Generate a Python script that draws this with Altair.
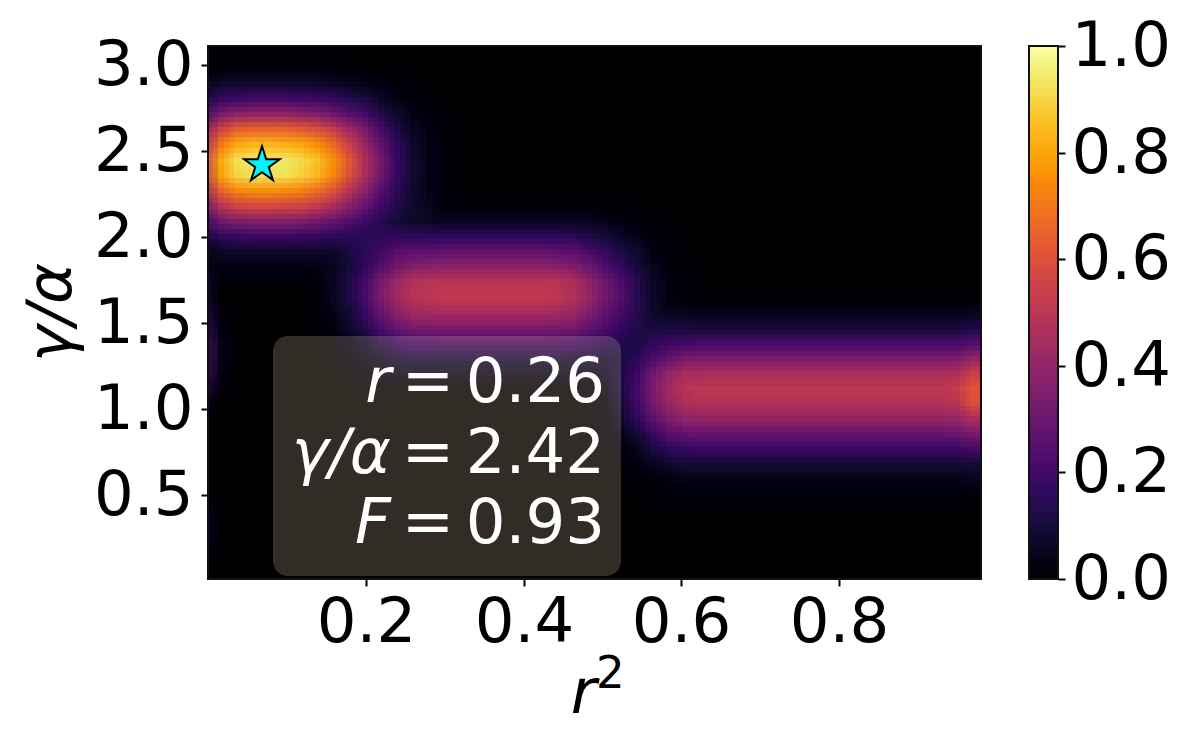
import altair as alt
import numpy as np
import pandas as pd

FONT = "DejaVu Sans"
FS = 62.5
N_COLS = 49

# Heatmap intensity, in hundredths (rows run top to bottom).
row_00 = []
row_01 = [0,1,1,1,1,1,1,1,1,1]
row_02 = [5,8,9,9,9,9,9,8,7,6,4,3,1,1]
row_03 = [11,18,20,21,21,21,20,19,17,14,11,7,4,2,1]
row_04 = [20,34,39,40,40,40,38,36,32,26,21,13,8,4,2,1]
row_05 = [33,56,64,66,66,65,63,59,53,43,33,21,12,6,3,1]
row_06 = [42,71,81,84,84,83,81,76,67,55,41,28,16,8,4,2]
row_07 = [48,81,92,95,95,94,91,86,76,62,47,32,18,9,4,2]
row_08 = [47,79,90,93,93,92,89,84,74,60,46,31,18,9,4,2]
row_09 = [38,65,74,76,76,75,73,68,61,49,38,25,15,8,4,2]
row_10 = [29,49,56,58,58,57,56,52,46,38,29,20,13,8,5] + [2]*10 + [1,1]
row_11 = [18,31,35,36,36,36,35,32,29,24,19,14,10,8,7] + [6]*9 + [5,4,3,2,1]
row_12 = [10,16,18,19,19,19,18,17,16,15,15,15,16,16,16] + [16]*8 + [15,12,10,7,4,2,1]
row_13 = [4,7,8,8,8,8,8,8,8,11,15,20,25,27,27] + [28]*7 + [27,26,22,17,12,8,3,1]
row_14 = [5,3,3,3,3,3,3,4,5,10,16,25,32,36,37] + [38]*7 + [37,35,30,23,17,10,5,2,1]
row_15 = [8,1,1,1,1,1,1,2,6,12,21,33,42,48,49] + [50]*7 + [49,46,39,31,23,14,7,3,1]
row_16 = [10,0,0,0,0,0,0,1,5,12,22,34,43,49,51] + [52]*7 + [51,48,41,32,24,14,7,3,1]
row_17 = [14,1,0,0,0,0,0,1,4,9,18,29,38,43,44] + [45]*7 + [44,42,36,28,21,14,8,5,5] + [4]*17 + [5]
row_18 = [18,3,0,0,0,0,0,1,3,8,14,23,30,34,34] + [35]*7 + [34,33,28,23,17,13,10,10] + [10]*18 + [12]
row_19 = [25,4,0,0,0,0,0,0,2,4,8,13,18,21,22] + [22]*8 + [21,18,15,13,12,16,19,20] + [21]*17 + [24]
row_20 = [25,4,0,0,0,0,0,0,0,3,5,7,10] + [11]*10 + [10,10,9,11,15,23,29,33] + [34]*16 + [35,40]
row_21 = [22,3,0,0,0,0,0,0,0,0,3,4,5] + [5]*11 + [5,7,12,19,31,40,45] + [46]*16 + [47,54]
row_22 = [15,1] + [0]*11 + [1]*11 + [2,4,11,21,34,44,49] + [51]*16 + [53,61]
row_23 = [6] + [0]*23 + [1,3,10,20,32,41,47] + [48]*16 + [50,59]
row_24 = [0]*24 + [1,2,8,16,27,35,39] + [40]*16 + [41,46]
row_25 = [0]*24 + [1,2,4,9,17,25,28] + [29]*16 + [30,33]
row_26 = [0]*25 + [1,2,5,11,15,17] + [18]*16 + [18,21]
row_27 = [0]*26 + [1,3,5,8,9] + [9]*16 + [9,10]
row_28 = [0]*27 + [1,2,3,4] + [4]*16 + [4,5]
row_29 = [0]*28 + [1,2,2] + [2]*16 + [2,2]
row_30 = [6]
row_31 = [8]
row_32 = [5]
row_33 = []
row_34 = []
rows = [row_00,row_01,row_02,row_03,row_04,row_05,row_06,row_07,row_08,row_09,
        row_10,row_11,row_12,row_13,row_14,row_15,row_16,row_17,row_18,row_19,
        row_20,row_21,row_22,row_23,row_24,row_25,row_26,row_27,row_28,row_29,
        row_30,row_31,row_32,row_33,row_34]

x_domain = [0.0, 0.98]
y_domain = [0.01, 3.11]
x_ticks = [0.2, 0.4, 0.6, 0.8]
y_ticks = [0.5, 1.0, 1.5, 2.0, 2.5, 3.0]
cb_ticks = [0.0, 0.2, 0.4, 0.6, 0.8, 1.0]
star_x = [0.0685]
star_y = [2.42]
left_labels = ["r", "γ/α", "F"]
number_labels = ["0.26", "2.42", "0.93"]

W, H = 773, 533

x_edges = np.concatenate([[0.0], np.linspace(5/W, 1.0, N_COLS)]) * (x_domain[1]-x_domain[0])
y_edges = np.linspace(y_domain[1], y_domain[0], len(rows)+1)

records = []
for r, row in enumerate(rows):
    full = list(row) + [0]*(N_COLS-len(row))
    for c, v in enumerate(full):
        records.append(dict(x=x_edges[c], x2=x_edges[c+1], y=y_edges[r], y2=y_edges[r+1], v=v/100))
heat_df = pd.DataFrame(records)

levels = np.linspace(0, 1, 129)
cb_df = pd.DataFrame(dict(a=levels[:-1], b=levels[1:], v=(levels[:-1]+levels[1:])/2))

color = alt.Color("v:Q", scale=alt.Scale(scheme="inferno", domain=[0, 1]), legend=None)

x_scale = alt.Scale(domain=x_domain, round=True, nice=False)
y_scale = alt.Scale(domain=y_domain, round=True, nice=False, zero=False)
x_axis = alt.Axis(values=x_ticks, format=".1f", grid=False, domain=False, tickSize=7,
                  tickWidth=2, tickColor="black", labelFont=FONT, labelFontSize=FS,
                  labelColor="black", labelPadding=6, labelFlush=False,
                  title="r", titleFont=FONT, titleFontSize=FS, titleFontWeight="normal",
                  titleFontStyle="italic", titleColor="black", titleX=375, titleY=133,
                  titleAlign="center", titleBaseline="alphabetic")
y_axis = alt.Axis(values=y_ticks, format=".1f", grid=False, domain=False, tickSize=7,
                  tickWidth=2, tickColor="black", labelFont=FONT, labelFontSize=FS,
                  labelColor="black", labelPadding=8, labelFlush=False,
                  title="γ/α", titleFont=FONT, titleFontSize=FS, titleFontWeight="normal",
                  titleFontStyle="italic", titleColor="black", titleX=-138, titleY=266,
                  titleAngle=270, titleAlign="center", titleBaseline="alphabetic")

# The same cells are drawn several times, a few pixels apart and with equal weight,
# so that the cell edges soften as in the smoothly interpolated reference image.
heat_layers = []
offsets = [(dx, dy) for dy in (0, -5, 5) for dx in (0, -5, 5)]
for k, (dx, dy) in enumerate(offsets, start=1):
    heat_layers.append(
        alt.Chart(heat_df).mark_rect(opacity=1/k, clip=True, xOffset=dx, x2Offset=dx,
                                     yOffset=dy, y2Offset=dy).encode(
            x=alt.X("x:Q", scale=x_scale, axis=x_axis),
            x2="x2:Q",
            y=alt.Y("y:Q", scale=y_scale, axis=y_axis if k == 1 else None),
            y2="y2:Q",
            color=color,
        )
    )

frame = alt.Chart(pd.DataFrame({"k": [0]})).mark_rect(filled=False, stroke="#111111", strokeWidth=2).encode(
    x=alt.value(0), x2=alt.value(W), y=alt.value(0), y2=alt.value(H))

STAR = "M0,-1L0.2245,-0.309L0.951,-0.309L0.363,0.118L0.588,0.809L0,0.382L-0.588,0.809L-0.363,0.118L-0.951,-0.309L-0.2245,-0.309Z"
star = alt.Chart(pd.DataFrame({"x": star_x, "y": star_y})).mark_point(
    shape=STAR, size=1400, filled=True, fill="#00f5ff", fillOpacity=1, stroke="black", strokeWidth=2, opacity=1
).encode(
    x=alt.X("x:Q", scale=x_scale, axis=x_axis),
    y=alt.Y("y:Q", scale=y_scale, axis=None),
)

box = alt.Chart(pd.DataFrame({"k": [0]})).mark_rect(
    color="#f5deb3", opacity=0.2, cornerRadius=15).encode(
    x=alt.value(65), x2=alt.value(413), y=alt.value(290), y2=alt.value(530))

text_layers = []
baselines = [356, 427, 497]
for lab, num, by in zip(left_labels, number_labels, baselines):
    df = pd.DataFrame({"l": [lab], "e": ["="], "t": [num]})
    text_layers.append(alt.Chart(df).mark_text(font=FONT, fontSize=FS, fontStyle="italic", color="white",
                                               align="right", baseline="alphabetic").encode(
        text="l:N", x=alt.value(183), y=alt.value(by)))
    text_layers.append(alt.Chart(df).mark_text(font=FONT, fontSize=FS, color="white",
                                               align="right", baseline="alphabetic").encode(
        text="e:N", x=alt.value(246), y=alt.value(by)))
    text_layers.append(alt.Chart(df).mark_text(font=FONT, fontSize=FS, color="white",
                                               align="right", baseline="alphabetic").encode(
        text="t:N", x=alt.value(397), y=alt.value(by)))

sup = alt.Chart(pd.DataFrame({"t": ["2"]})).mark_text(font=FONT, fontSize=45, color="black", align="left",
                                                       baseline="alphabetic").encode(
    text="t:N", x=alt.value(388), y=alt.value(642))

cb = alt.Chart(cb_df).mark_rect().encode(
    x=alt.value(821), x2=alt.value(850),
    y=alt.Y("a:Q", scale=alt.Scale(domain=[0, 1], round=True, nice=False),
            axis=alt.Axis(orient="right", offset=77, values=cb_ticks, format=".1f", grid=False,
                          domain=False, tickSize=7, tickWidth=2, tickColor="black", labelFont=FONT,
                          labelFontSize=FS, labelColor="black", labelPadding=6, labelFlush=False,
                          labelOverlap=False, labelBound=False, title=None)),
    y2="b:Q",
    color=color,
)
cb_frame = alt.Chart(pd.DataFrame({"k": [0]})).mark_rect(filled=False, stroke="#111111", strokeWidth=2).encode(
    x=alt.value(821), x2=alt.value(850), y=alt.value(0), y2=alt.value(H))

chart = alt.layer(*heat_layers, star, box, *text_layers, sup, frame, cb, cb_frame).resolve_scale(
    y="independent"
).properties(
    width=W, height=H,
    autosize=alt.AutoSizeParams(type="none"),
    padding={"left": 200, "top": 38, "right": 200, "bottom": 160},
    background="white",
).configure_view(stroke=None)

chart.save("out.html", embed_options={"renderer": "svg", "actions": False})
